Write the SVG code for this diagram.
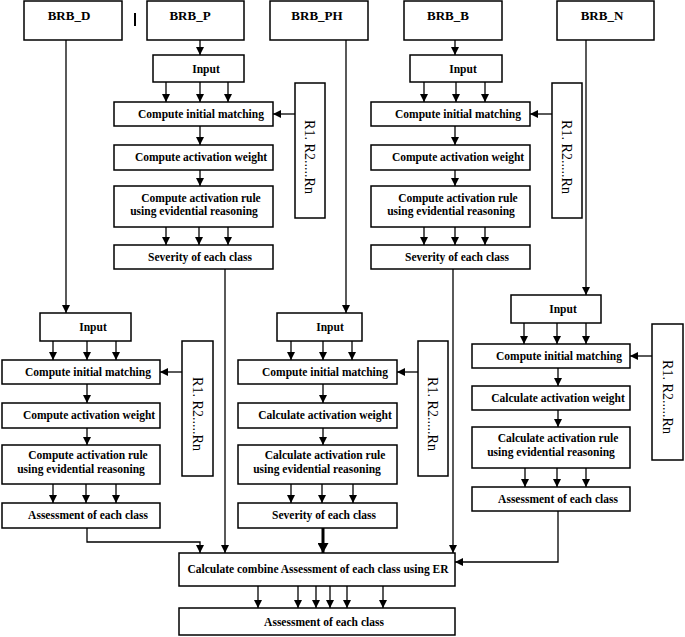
<svg xmlns="http://www.w3.org/2000/svg" width="685" height="637" viewBox="0 0 685 637">
<defs>
<marker id="ah" markerUnits="userSpaceOnUse" markerWidth="8" markerHeight="8" refX="8" refY="4" orient="auto"><path d="M0,0 L8,4 L0,8 z" fill="#000"/></marker>
<marker id="ahb" markerUnits="userSpaceOnUse" markerWidth="11" markerHeight="11" refX="10" refY="5.5" orient="auto"><path d="M0,0 L10,5.5 L0,11 z" fill="#000"/></marker>
<style>
rect{fill:#fff;stroke:#000;stroke-width:1.5}
rect.bg{fill:#fff;stroke:none}
rect.bar{fill:#000;stroke:none}
text{font-family:"Liberation Serif","Times New Roman",serif;font-weight:bold;font-size:11.5px;text-anchor:middle;fill:#000}
.h{font-size:13px}
.r{font-weight:normal;font-size:14px;dominant-baseline:central}
.c line,.c path{stroke:#000;stroke-width:1.3;fill:none}
.a{marker-end:url(#ah)}
</style>
</defs>
<rect class="bg" x="0" y="0" width="685" height="637"/>
<rect class="bar" x="134" y="13" width="2" height="13"/>

<g id="connectors" class="c">
<!-- P column -->
<line class="a" x1="200" y1="40" x2="200" y2="55"/>
<line class="a" x1="166" y1="82" x2="166" y2="102"/>
<line class="a" x1="200" y1="82" x2="200" y2="102"/>
<line class="a" x1="228" y1="82" x2="228" y2="102"/>
<line class="a" x1="295" y1="114" x2="273" y2="114"/>
<line class="a" x1="200" y1="126" x2="200" y2="145"/>
<line class="a" x1="200" y1="170" x2="200" y2="186"/>
<line class="a" x1="166" y1="227" x2="166" y2="245"/>
<line class="a" x1="199" y1="227" x2="199" y2="245"/>
<line class="a" x1="228" y1="227" x2="228" y2="245"/>
<line class="a" x1="225" y1="269" x2="225" y2="553"/>
<!-- B column -->
<line class="a" x1="455" y1="40" x2="455" y2="55"/>
<line class="a" x1="424" y1="82" x2="424" y2="102"/>
<line class="a" x1="456" y1="82" x2="456" y2="102"/>
<line class="a" x1="485" y1="82" x2="485" y2="102"/>
<line class="a" x1="552" y1="114" x2="530" y2="114"/>
<line class="a" x1="455" y1="126" x2="455" y2="145"/>
<line class="a" x1="455" y1="170" x2="455" y2="186"/>
<line class="a" x1="424" y1="227" x2="424" y2="245"/>
<line class="a" x1="455" y1="227" x2="455" y2="245"/>
<line class="a" x1="485" y1="227" x2="485" y2="245"/>
<line class="a" x1="453" y1="269" x2="453" y2="553"/>
<!-- D column -->
<line class="a" x1="66" y1="40" x2="66" y2="313"/>
<line class="a" x1="53" y1="341" x2="53" y2="360"/>
<line class="a" x1="87" y1="341" x2="87" y2="360"/>
<line class="a" x1="116" y1="341" x2="116" y2="360"/>
<line class="a" x1="182" y1="372" x2="160" y2="372"/>
<line class="a" x1="87" y1="384" x2="87" y2="403"/>
<line class="a" x1="87" y1="428" x2="87" y2="445"/>
<line class="a" x1="53" y1="484" x2="53" y2="503"/>
<line class="a" x1="86" y1="484" x2="86" y2="503"/>
<line class="a" x1="116" y1="484" x2="116" y2="503"/>
<path class="a" d="M87,528 V542 H200 V553"/>
<!-- PH column -->
<line class="a" x1="346" y1="40" x2="346" y2="313"/>
<line class="a" x1="291" y1="341" x2="291" y2="360"/>
<line class="a" x1="323" y1="341" x2="323" y2="360"/>
<line class="a" x1="352" y1="341" x2="352" y2="360"/>
<line class="a" x1="418" y1="372" x2="397" y2="372"/>
<line class="a" x1="323" y1="384" x2="323" y2="403"/>
<line class="a" x1="323" y1="428" x2="323" y2="445"/>
<line class="a" x1="291" y1="484" x2="291" y2="503"/>
<line class="a" x1="322" y1="484" x2="322" y2="503"/>
<line class="a" x1="353" y1="484" x2="353" y2="503"/>
<line x1="323" y1="528" x2="323" y2="553" style="stroke-width:3;marker-end:url(#ahb)"/>
<!-- N column -->
<line class="a" x1="586" y1="40" x2="586" y2="295"/>
<line class="a" x1="524" y1="323" x2="524" y2="344"/>
<line class="a" x1="557" y1="323" x2="557" y2="344"/>
<line class="a" x1="586" y1="323" x2="586" y2="344"/>
<line class="a" x1="652" y1="356" x2="630" y2="356"/>
<line class="a" x1="558" y1="368" x2="558" y2="386"/>
<line class="a" x1="558" y1="410" x2="558" y2="427"/>
<line class="a" x1="525" y1="468" x2="525" y2="487"/>
<line class="a" x1="557" y1="468" x2="557" y2="487"/>
<line class="a" x1="586" y1="468" x2="586" y2="487"/>
<path class="a" d="M558,511 V562 H455"/>
<!-- bottom -->
<line class="a" x1="258" y1="586" x2="258" y2="608"/>
<line class="a" x1="298" y1="586" x2="298" y2="608"/>
<line class="a" x1="316" y1="586" x2="316" y2="608"/>
<line class="a" x1="330" y1="586" x2="330" y2="608"/>
<line class="a" x1="347" y1="586" x2="347" y2="608"/>
<line class="a" x1="383" y1="586" x2="383" y2="608"/>
</g>

<!-- top headers -->
<g id="BRB_D"><rect x="24" y="1" width="98" height="39"/><text class="h" x="69" y="20">BRB_D</text></g>
<g id="BRB_P"><rect x="147" y="1" width="97" height="39"/><text class="h" x="190" y="20">BRB_P</text></g>
<g id="BRB_PH"><rect x="270" y="1" width="98" height="39"/><text class="h" x="317" y="20">BRB_PH</text></g>
<g id="BRB_B"><rect x="404" y="1" width="98" height="39"/><text class="h" x="448" y="20">BRB_B</text></g>
<g id="BRB_N"><rect x="557" y="1" width="97" height="39"/><text class="h" x="602" y="20">BRB_N</text></g>

<!-- P column -->
<g id="P_input"><rect x="153" y="55" width="91" height="27"/><text x="206" y="73">Input</text></g>
<g id="P_match"><rect x="114" y="102" width="159" height="24"/><text x="201" y="118">Compute  initial  matching</text></g>
<g id="P_rules"><rect x="295" y="83" width="30" height="135"/><text class="r" x="309" y="157" transform="rotate(90 309 157)" textLength="74" lengthAdjust="spacingAndGlyphs">R1. R2.....Rn</text></g>
<g id="P_weight"><rect x="114" y="145" width="159" height="25"/><text x="201" y="161">Compute activation weight</text></g>
<g id="P_rule"><rect x="114" y="186" width="159" height="41"/><text x="201" y="202">Compute activation rule</text><text x="194" y="215">using evidential reasoning</text></g>
<g id="P_severity"><rect x="114" y="245" width="159" height="24"/><text x="200" y="261">Severity of each class</text></g>

<!-- B column -->
<g id="B_input"><rect x="410" y="55" width="92" height="27"/><text x="463" y="73">Input</text></g>
<g id="B_match"><rect x="371" y="102" width="159" height="24"/><text x="458" y="118">Compute  initial  matching</text></g>
<g id="B_rules"><rect x="552" y="83" width="30" height="135"/><text class="r" x="566" y="157" transform="rotate(90 566 157)" textLength="74" lengthAdjust="spacingAndGlyphs">R1. R2.....Rn</text></g>
<g id="B_weight"><rect x="371" y="145" width="159" height="25"/><text x="458" y="161">Compute activation weight</text></g>
<g id="B_rule"><rect x="371" y="186" width="159" height="41"/><text x="458" y="202">Compute activation rule</text><text x="451" y="215">using evidential reasoning</text></g>
<g id="B_severity"><rect x="371" y="245" width="159" height="24"/><text x="457" y="261">Severity of each class</text></g>

<!-- D column -->
<g id="D_input"><rect x="40" y="313" width="91" height="28"/><text x="93" y="331">Input</text></g>
<g id="D_match"><rect x="2" y="360" width="158" height="24"/><text x="88" y="376">Compute  initial  matching</text></g>
<g id="D_rules"><rect x="182" y="341" width="31" height="135"/><text class="r" x="197" y="414" transform="rotate(90 197 414)" textLength="74" lengthAdjust="spacingAndGlyphs">R1. R2.....Rn</text></g>
<g id="D_weight"><rect x="2" y="403" width="158" height="25"/><text x="89" y="419">Compute activation weight</text></g>
<g id="D_rule"><rect x="2" y="445" width="158" height="39"/><text x="88" y="459">Compute activation rule</text><text x="81" y="473">using evidential reasoning</text></g>
<g id="D_assess"><rect x="2" y="503" width="158" height="25"/><text x="88" y="519">Assessment of each class</text></g>

<!-- PH column -->
<g id="PH_input"><rect x="277" y="313" width="85" height="28"/><text x="330" y="331">Input</text></g>
<g id="PH_match"><rect x="238" y="360" width="159" height="24"/><text x="325" y="376">Compute  initial  matching</text></g>
<g id="PH_rules"><rect x="418" y="341" width="30" height="135"/><text class="r" x="432" y="414" transform="rotate(90 432 414)" textLength="74" lengthAdjust="spacingAndGlyphs">R1. R2.....Rn</text></g>
<g id="PH_weight"><rect x="238" y="403" width="159" height="25"/><text x="325" y="419">Calculate activation weight</text></g>
<g id="PH_rule"><rect x="238" y="445" width="159" height="39"/><text x="325" y="459">Calculate activation rule</text><text x="317" y="473">using evidential reasoning</text></g>
<g id="PH_severity"><rect x="238" y="503" width="159" height="25"/><text x="324" y="519">Severity of each class</text></g>

<!-- N column -->
<g id="N_input"><rect x="511" y="295" width="90" height="28"/><text x="563" y="313">Input</text></g>
<g id="N_match"><rect x="472" y="344" width="158" height="24"/><text x="559" y="360">Compute  initial  matching</text></g>
<g id="N_rules"><rect x="652" y="324" width="31" height="136"/><text class="r" x="667" y="397" transform="rotate(90 667 397)" textLength="74" lengthAdjust="spacingAndGlyphs">R1. R2.....Rn</text></g>
<g id="N_weight"><rect x="472" y="386" width="158" height="24"/><text x="558" y="402">Calculate activation weight</text></g>
<g id="N_rule"><rect x="472" y="427" width="158" height="41"/><text x="558" y="442">Calculate activation rule</text><text x="551" y="456">using evidential reasoning</text></g>
<g id="N_assess"><rect x="472" y="487" width="158" height="24"/><text x="558" y="503">Assessment of each class</text></g>

<!-- bottom -->
<g id="combine"><rect x="179" y="553" width="276" height="33"/><text x="318" y="573">Calculate combine Assessment of each class using ER</text></g>
<g id="final"><rect x="179" y="608" width="276" height="27"/><text x="324" y="626">Assessment of each class</text></g>
</svg>
